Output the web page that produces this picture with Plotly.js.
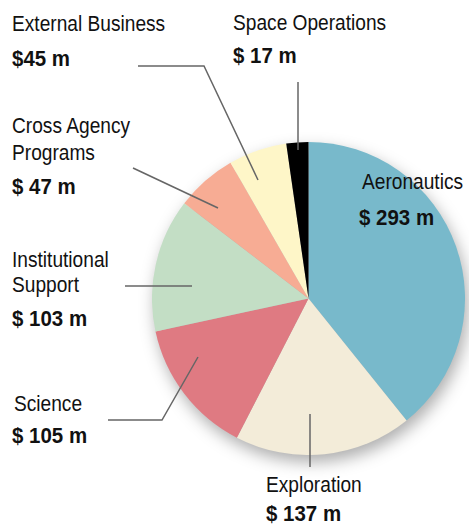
<!DOCTYPE html>
<html>
<head>
<meta charset="utf-8">
<script src="https://cdn.plot.ly/plotly-3.0.1.min.js"></script>
<style>
html,body{margin:0;padding:0;background:#fff;}
#chart{width:469px;height:527px;}
#chart .pielayer .trace{filter:drop-shadow(3px 7px 8px rgba(0,0,0,0.32));}
</style>
</head>
<body>
<div id="chart"></div>
<script>
const categories = ['Aeronautics','Exploration','Science','Institutional Support','Cross Agency Programs','External Business','Space Operations'];
const values = [293, 137, 105, 103, 47, 45, 17];
const valueLabels = ['$ 293 m','$ 137 m','$ 105 m','$ 103 m','$ 47 m','$45 m','$ 17 m'];
const nameLines = [['Aeronautics'],['Exploration'],['Science'],['Institutional','Support'],['Cross Agency','Programs'],['External Business'],['Space Operations']];
const colors = ['#78b9cb','#f3ecd9','#df7a82','#c3dec5','#f7ac94','#fef6c8','#000000'];

const W = 469, H = 527;
const px = x => x / W;
const py = y => 1 - y / H;
const FONT = '"Liberation Sans Narrow", "Liberation Sans", Arial, sans-serif';
const FS = 22;

// label layout: x left, baselines of name lines, baseline of value line
const labelPos = [
  {x: 361, names: [188], val: 225, vx: 358},
  {x: 265, names: [491], val: 520, vx: 265},
  {x: 13,  names: [410], val: 442, vx: 11},
  {x: 11,  names: [266, 291], val: 325, vx: 11},
  {x: 11,  names: [133, 159], val: 193, vx: 11},
  {x: 11,  names: [31], val: 66, vx: 11},
  {x: 232, names: [29], val: 63, vx: 232}
];
// leader lines (polyline points, pixels)
const leaders = [
  null,
  [[310, 414], [310, 467]],
  [[198, 357], [162, 420], [108, 420]],
  [[125, 286], [192, 286]],
  [[133, 168], [218, 208]],
  [[138, 66], [204, 66], [258, 180]],
  [[298, 82], [298, 150]]
];

const annotations = [];
const shapes = [];
categories.forEach((c, i) => {
  const p = labelPos[i];
  nameLines[i].forEach((t, k) => {
    annotations.push({text: t, xref: 'paper', yref: 'paper', x: px(p.x), y: py(p.names[k] - 7),
      xanchor: 'left', yanchor: 'middle', showarrow: false, borderpad: 0,
      font: {family: FONT, size: FS, color: '#111'}});
  });
  annotations.push({text: '<b>' + valueLabels[i] + '</b>', xref: 'paper', yref: 'paper', x: px(p.vx), y: py(p.val - 7),
    xanchor: 'left', yanchor: 'middle', showarrow: false, borderpad: 0,
    font: {family: FONT, size: FS, color: '#111'}});
  const L = leaders[i];
  if (L) {
    let d = 'M ' + L.map(q => px(q[0]) + ' ' + py(q[1])).join(' L ');
    shapes.push({type: 'path', xref: 'paper', yref: 'paper', path: d,
      line: {color: '#666666', width: 1.5}});
  }
});

const data = [{
  type: 'pie',
  labels: categories,
  values: values,
  sort: false,
  direction: 'clockwise',
  rotation: 0,
  textinfo: 'none',
  hoverinfo: 'none',
  marker: {colors: colors, line: {width: 0}},
  domain: {x: [px(152), px(465)], y: [py(455), py(142)]},
  showlegend: false
}];

const layout = {
  width: W, height: H,
  margin: {l: 0, r: 0, t: 0, b: 0},
  paper_bgcolor: '#ffffff',
  showlegend: false,
  annotations: annotations,
  shapes: shapes
};

Plotly.newPlot('chart', data, layout, {displayModeBar: false, staticPlot: true}).then(() => {
  // condense the label typeface horizontally, like the reference's narrow font
  document.querySelectorAll('#chart text.annotation-text').forEach(t => {
    const bold = t.innerHTML.indexOf('bold') >= 0;
    t.style.transformBox = 'fill-box';
    t.style.transformOrigin = 'left center';
    t.style.transform = 'scaleX(' + (bold ? 0.93 : 0.87) + ')';
  });
});
</script>
</body>
</html>
